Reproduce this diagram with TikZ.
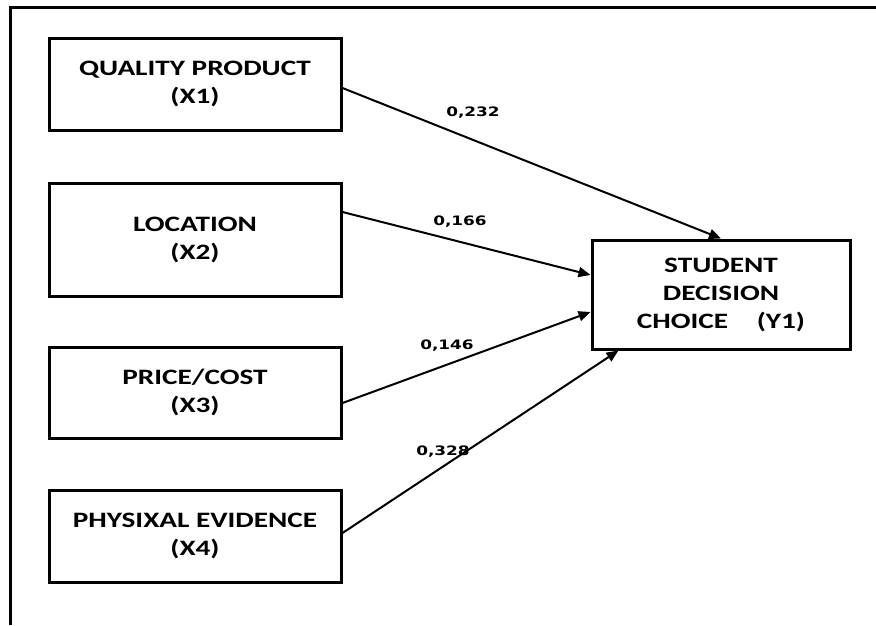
\documentclass[tikz,border=0pt]{standalone}
\usepackage{fontspec}
\setmainfont{Carlito}[FakeStretch=1.33]
\newfontfamily\coeffont{DejaVu Sans}[FakeStretch=1.3]
\usetikzlibrary{
  arrows.meta,
  positioning
}

\begin{document}
\begin{tikzpicture}[x=1pt, y=-1pt,
    varbox/.style={draw, line width=3pt, minimum width=292pt, align=center, font=\bfseries\fontsize{22}{28}\selectfont},
    coef/.style={font=\coeffont\bfseries\fontsize{13}{15}\selectfont},
    link/.style={draw, line width=2pt, -{Triangle[length=12pt, width=10pt]}}]
\useasboundingbox (0,0) rectangle (876,625);
% outer frame
\draw [line width=3pt] (876,7) -- (10,7) -- (10,625);
% variables
\node [varbox, minimum height=92pt] (x1) at (195,84) {QUALITY PRODUCT\\(X1)};
\node [varbox, minimum height=113pt] (x2) at (195,239.5) {LOCATION\\(X2)};
\node [varbox, minimum height=91pt] (x3) at (195,392.5) {PRICE/COST\\(X3)};
\node [varbox, minimum height=92pt] (x4) at (195,536) {PHYSIXAL EVIDENCE\\(X4)};
\node [varbox, minimum width=258pt, minimum height=109pt] (y1) at (721,294.5) {STUDENT\\DECISION\\CHOICE\quad\ (Y1)};
% paths
\draw [link] ([yshift=-4pt]x1.east) -- (y1.north);
\draw [link] ([yshift=27.5pt]x2.east) -- ([yshift=19.5pt]y1.west);
\draw [link] ([yshift=-10.5pt]x3.east) -- ([yshift=-17.5pt]y1.west);
\draw [link] ([yshift=3pt]x4.east) -- ([xshift=28pt]y1.south west);
% coefficients
\node [coef] (c1) at (473,113) {0,232};
\node [coef] (c2) at (460,222) {0,166};
\node [coef] (c3) at (447,346) {0,146};
\node [coef] (c4) at (443,452) {0,328};
\end{tikzpicture}
\end{document}
